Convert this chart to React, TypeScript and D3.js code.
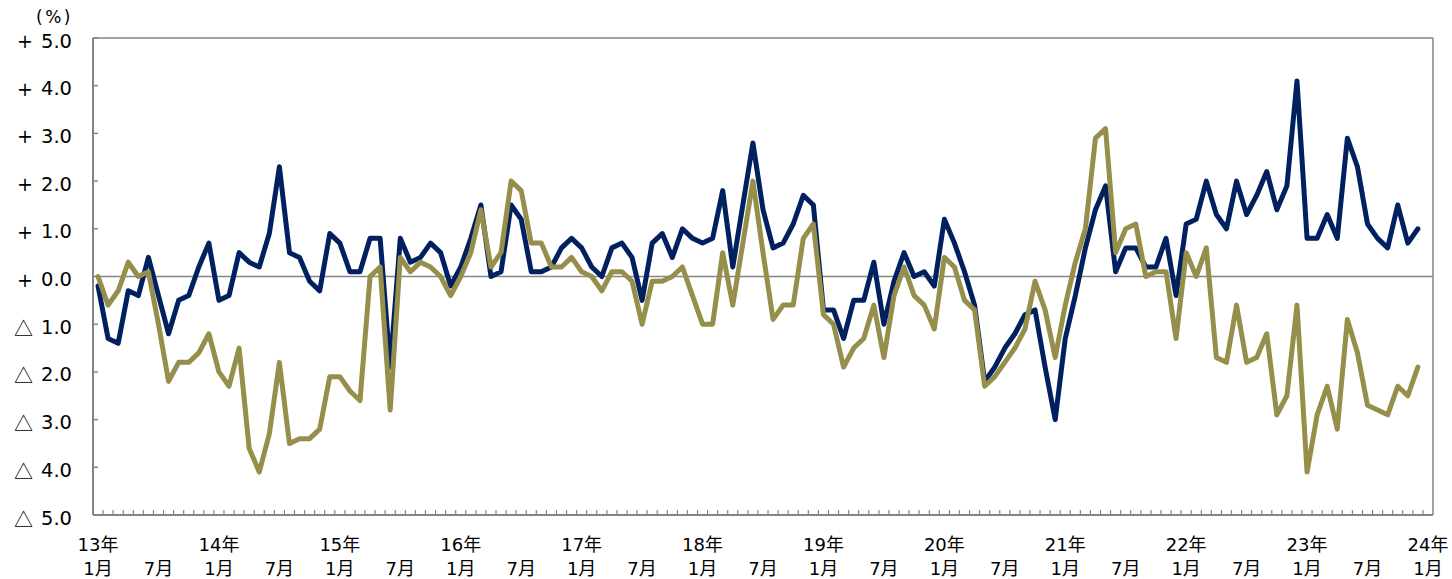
import React from "react";
import * as d3 from "d3";

// Monthly categories: Jan 2013 .. Jan 2024 (133 slots, last slot has no data)
const years = [13, 14, 15, 16, 17, 18, 19, 20, 21, 22, 23, 24];
const months = [1, 2, 3, 4, 5, 6, 7, 8, 9, 10, 11, 12];
const categories: string[] = [];
years.forEach((y) => months.forEach((m) => {
  if (y < 24 || m === 1) categories.push(`${y}-${m}`);
}));

const yTicks = [5, 4, 3, 2, 1, 0, -1, -2, -3, -4, -5];

const navySeries = [
  -0.2, -1.3, -1.4, -0.3, -0.4, 0.4, -0.4, -1.2, -0.5, -0.4, 0.2, 0.7,
  -0.5, -0.4, 0.5, 0.3, 0.2, 0.9, 2.3, 0.5, 0.4, -0.1, -0.3, 0.9,
  0.7, 0.1, 0.1, 0.8, 0.8, -1.9, 0.8, 0.3, 0.4, 0.7, 0.5, -0.2,
  0.2, 0.8, 1.5, 0.0, 0.1, 1.5, 1.2, 0.1, 0.1, 0.2, 0.6, 0.8,
  0.6, 0.2, 0.0, 0.6, 0.7, 0.4, -0.5, 0.7, 0.9, 0.4, 1.0, 0.8,
  0.7, 0.8, 1.8, 0.2, 1.5, 2.8, 1.4, 0.6, 0.7, 1.1, 1.7, 1.5,
  -0.7, -0.7, -1.3, -0.5, -0.5, 0.3, -1.0, -0.1, 0.5, 0.0, 0.1, -0.2,
  1.2, 0.7, 0.1, -0.6, -2.2, -1.9, -1.5, -1.2, -0.8, -0.7, -1.9, -3.0,
  -1.3, -0.4, 0.6, 1.4, 1.9, 0.1, 0.6, 0.6, 0.2, 0.2, 0.8, -0.4,
  1.1, 1.2, 2.0, 1.3, 1.0, 2.0, 1.3, 1.7, 2.2, 1.4, 1.9, 4.1,
  0.8, 0.8, 1.3, 0.8, 2.9, 2.3, 1.1, 0.8, 0.6, 1.5, 0.7, 1.0,
];

const oliveSeries = [
  0.0, -0.6, -0.3, 0.3, 0.0, 0.1, -1.0, -2.2, -1.8, -1.8, -1.6, -1.2,
  -2.0, -2.3, -1.5, -3.6, -4.1, -3.3, -1.8, -3.5, -3.4, -3.4, -3.2, -2.1,
  -2.1, -2.4, -2.6, 0.0, 0.2, -2.8, 0.4, 0.1, 0.3, 0.2, 0.0, -0.4,
  0.0, 0.5, 1.4, 0.2, 0.5, 2.0, 1.8, 0.7, 0.7, 0.2, 0.2, 0.4,
  0.1, 0.0, -0.3, 0.1, 0.1, -0.1, -1.0, -0.1, -0.1, 0.0, 0.2, -0.4,
  -1.0, -1.0, 0.5, -0.6, 0.7, 2.0, 0.5, -0.9, -0.6, -0.6, 0.8, 1.1,
  -0.8, -1.0, -1.9, -1.5, -1.3, -0.6, -1.7, -0.4, 0.2, -0.4, -0.6, -1.1,
  0.4, 0.2, -0.5, -0.7, -2.3, -2.1, -1.8, -1.5, -1.1, -0.1, -0.7, -1.7,
  -0.6, 0.3, 1.0, 2.9, 3.1, 0.5, 1.0, 1.1, 0.0, 0.1, 0.1, -1.3,
  0.5, 0.0, 0.6, -1.7, -1.8, -0.6, -1.8, -1.7, -1.2, -2.9, -2.5, -0.6,
  -4.1, -2.9, -2.3, -3.2, -0.9, -1.6, -2.7, -2.8, -2.9, -2.3, -2.5, -1.9,
];

const W = 1452;
const H = 579;
const left = 93;
const right = 1433;
const top = 38;
const bottom = 515;

const NAVY = "#002060";
const OLIVE = "#958F4B";
const GRAY = "#858585";

export default function App() {
  const x = d3.scalePoint<string>().domain(categories).range([left, right]).padding(0.5);
  const step = x.step();
  const y = d3.scaleLinear().domain([-5, 5]).range([bottom, top]);

  const line = d3
    .line<number>()
    .x((_, i) => x(categories[i]) as number)
    .y((d) => y(d));

  const labelFont = "'DejaVu Sans', 'Noto Sans CJK JP', sans-serif";
  const cjkFont = "'Noto Sans CJK JP', 'DejaVu Sans', sans-serif";

  return (
    <svg
      width={W}
      height={H}
      style={{ position: "absolute", left: 0, top: 0, background: "#fff" }}
    >
      {/* frame top & right */}
      <line x1={left} x2={right} y1={top} y2={top} stroke={GRAY} strokeWidth={1.5} />
      <line x1={right} x2={right} y1={top} y2={bottom} stroke={GRAY} strokeWidth={1.5} />
      {/* zero line */}
      <line x1={left} x2={right} y1={y(0)} y2={y(0)} stroke={GRAY} strokeWidth={1.5} />
      {/* y ticks */}
      {yTicks.map((t) => (
        <line key={`yt${t}`} x1={left} x2={left + 5} y1={y(t)} y2={y(t)} stroke={GRAY} strokeWidth={1.5} />
      ))}
      {/* x ticks at category boundaries */}
      {categories.slice(1).map((c) => {
        const bx = (x(c) as number) - step / 2;
        return <line key={`xt${c}`} x1={bx} x2={bx} y1={bottom} y2={bottom - 5} stroke={GRAY} strokeWidth={1.2} />;
      })}
      {/* axes */}
      <line x1={left} x2={left} y1={top} y2={bottom} stroke={GRAY} strokeWidth={2} />
      <line x1={left} x2={right} y1={bottom} y2={bottom} stroke={GRAY} strokeWidth={2} />

      {/* series */}
      <path d={line(navySeries) || ""} fill="none" stroke={NAVY} strokeWidth={5} strokeLinejoin="round" strokeLinecap="round" />
      <path d={line(oliveSeries) || ""} fill="none" stroke={OLIVE} strokeWidth={5} strokeLinejoin="round" strokeLinecap="round" />

      {/* y labels: sign and number */}
      {yTicks.map((t) => (
        <g key={`yl${t}`}>
          {t < 0 ? (
            <text
              x={14}
              y={y(t) + 3}
              textAnchor="start"
              dominantBaseline="central"
              fontFamily={cjkFont}
              fontSize={19}
              fill="#000"
            >
              △
            </text>
          ) : (
            <text
              x={17}
              y={y(t) + 3}
              textAnchor="start"
              dominantBaseline="central"
              fontFamily={labelFont}
              fontSize={19}
              fill="#000"
            >
              +
            </text>
          )}
          <text
            x={72}
            y={y(t) + 3}
            textAnchor="end"
            dominantBaseline="central"
            fontFamily={labelFont}
            fontSize={19.5}
            fill="#000"
          >
            {Math.abs(t).toFixed(1)}
          </text>
        </g>
      ))}
      <text x={73} y={17} textAnchor="end" dominantBaseline="central" fontFamily={labelFont} fontSize={17} letterSpacing={2.5} fill="#000">
        (%)
      </text>

      {/* x labels */}
      {categories.map((c) => {
        const [yy, mm] = c.split("-").map(Number);
        const cx = x(c) as number;
        if (mm === 1) {
          return (
            <g key={`xl${c}`}>
              <text x={cx} y={544} textAnchor="middle" dominantBaseline="central" fontFamily={labelFont} fontSize={18} fill="#000">
                {`${yy}年`}
              </text>
              <text x={cx} y={568} textAnchor="middle" dominantBaseline="central" fontFamily={labelFont} fontSize={18} fill="#000">
                1月
              </text>
            </g>
          );
        }
        if (mm === 7) {
          return (
            <text key={`xl${c}`} x={cx} y={568} textAnchor="middle" dominantBaseline="central" fontFamily={labelFont} fontSize={18} fill="#000">
              7月
            </text>
          );
        }
        return null;
      })}
    </svg>
  );
}
